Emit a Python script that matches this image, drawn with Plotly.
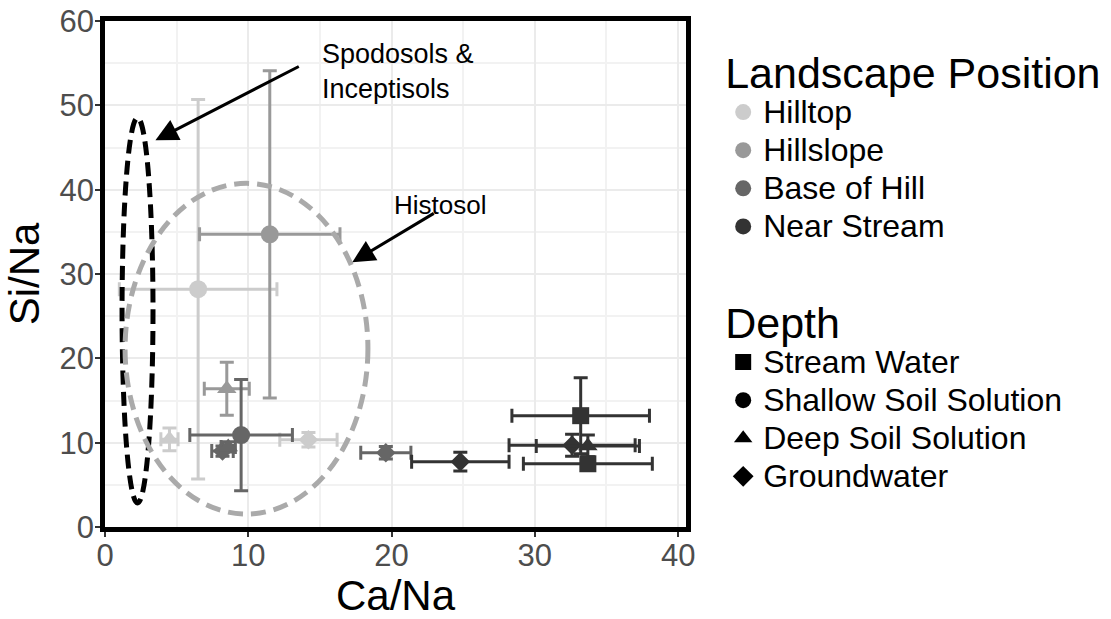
import plotly.graph_objects as go

# ---- data ----
landscape = ["Hilltop", "Hilltop", "Hilltop", "Hillslope", "Hillslope",
             "Base of Hill", "Base of Hill", "Base of Hill", "Base of Hill",
             "Near Stream", "Near Stream", "Near Stream", "Near Stream", "Near Stream"]
depth = ["Shallow Soil Solution", "Deep Soil Solution", "Groundwater",
         "Shallow Soil Solution", "Deep Soil Solution",
         "Shallow Soil Solution", "Groundwater", "Deep Soil Solution", "Groundwater",
         "Groundwater", "Stream Water", "Groundwater", "Deep Soil Solution", "Stream Water"]
ca_na = [6.5, 4.5, 14.2, 11.5, 8.5, 9.5, 8.2, 8.6, 19.6, 24.8, 33.2, 32.6, 33.7, 33.7]
si_na = [28.2, 10.4, 10.35, 34.7, 16.4, 10.9, 9.0, 9.5, 8.8, 7.75, 13.2, 9.7, 9.6, 7.5]
ca_sd = [5.5, 0.6, 2.0, 4.9, 1.57, 3.58, 0.75, 0.5, 1.75, 3.4, 4.8, 4.4, 3.6, 4.5]
si_sd = [22.5, 1.35, 0.85, 19.4, 3.15, 6.6, 0.6, 0.6, 0.75, 1.1, 4.5, 1.3, 1.3, 0.8]

landscape_levels = ["Hilltop", "Hillslope", "Base of Hill", "Near Stream"]
landscape_colors = ["#cccccc", "#999999", "#666666", "#333333"]
depth_levels = ["Stream Water", "Shallow Soil Solution", "Deep Soil Solution", "Groundwater"]
depth_symbols = ["square", "circle", "triangle-up", "diamond"]
depth_sizes = [17, 18, 17, 15]

x_ticks = [0, 10, 20, 30, 40]
y_ticks = [0, 10, 20, 30, 40, 50, 60]

col_of = dict(zip(landscape_levels, landscape_colors))
sym_of = dict(zip(depth_levels, depth_symbols))
size_of = dict(zip(depth_levels, depth_sizes))

fig = go.Figure()

for i in range(len(ca_na)):
    c = col_of[landscape[i]]
    fig.add_trace(go.Scatter(
        x=[ca_na[i]], y=[si_na[i]], mode="markers",
        marker=dict(symbol=sym_of[depth[i]], size=size_of[depth[i]], color=c, line=dict(width=0)),
        error_x=dict(type="data", array=[ca_sd[i]], color=c, thickness=3, width=7),
        error_y=dict(type="data", array=[si_sd[i]], color=c, thickness=3, width=7),
        showlegend=False, hoverinfo="x+y"))

ITEM = "<span style='font-size:32px'>{}</span>"
for lv, c in zip(landscape_levels, landscape_colors):
    fig.add_trace(go.Scatter(x=[None], y=[None], mode="markers", name=ITEM.format(lv),
                             marker=dict(symbol="circle", size=18, color=c),
                             legend="legend", showlegend=True))
for lv, s in zip(depth_levels, depth_symbols):
    fig.add_trace(go.Scatter(x=[None], y=[None], mode="markers", name=ITEM.format(lv),
                             marker=dict(symbol=s, size=18, color="black"),
                             legend="legend2", showlegend=True))

# ellipses
fig.add_shape(type="circle", xref="x", yref="y", x0=1.19, x1=3.35, y0=2.85, y1=48.5,
              line=dict(color="black", width=5, dash="14px,7px"), layer="above")
fig.add_shape(type="circle", xref="x", yref="y", x0=1.4, x1=18.35, y0=1.54, y1=40.75,
              line=dict(color="#aaaaaa", width=5, dash="15px,8px"), layer="above")

# annotations
fig.add_annotation(x=3.52, y=45.85, ax=13.63, ay=54.7, xref="x", yref="y", axref="x", ayref="y",
                   text="", showarrow=True, arrowhead=2, arrowsize=1.5, arrowwidth=3, arrowcolor="black")
fig.add_annotation(x=15.0, y=54.0, xref="x", yref="y", text="Spodosols &amp;<br>Inceptisols",
                   showarrow=False, xanchor="left", yanchor="middle", align="left",
                   font=dict(family="Arial", size=27, color="black"))
fig.add_annotation(x=17.26, y=31.4, ax=23.05, ay=37.3, xref="x", yref="y", axref="x", ayref="y",
                   text="", showarrow=True, arrowhead=2, arrowsize=1.5, arrowwidth=3, arrowcolor="black")
fig.add_annotation(x=20.0, y=38.2, xref="x", yref="y", text="Histosol",
                   showarrow=False, xanchor="left", yanchor="middle",
                   font=dict(family="Arial", size=26, color="black"))

axis_common = dict(
    showline=True, linecolor="black", linewidth=4.5, mirror=True,
    ticks="outside", ticklen=5, tickwidth=2, tickcolor="#333333",
    tickfont=dict(family="Arial", size=31, color="#4d4d4d"),
    showgrid=True, gridcolor="#ebebeb", gridwidth=2,
    minor=dict(showgrid=True, gridcolor="#f2f2f2", gridwidth=1.5, dtick=5, ticks=""),
    zeroline=False, automargin=False,
)

fig.update_layout(
    width=1111, height=619,
    margin=dict(l=105, r=425, t=21, b=92, autoexpand=False),
    paper_bgcolor="white", plot_bgcolor="white",
    font=dict(family="Arial", color="black"),
    xaxis=dict(range=[0, 40.55], tickvals=x_ticks, ticktext=[str(v) for v in x_ticks],
               ticklabelstandoff=-8,
               title=dict(text="Ca/Na", font=dict(family="Arial", size=42, color="black"), standoff=12),
               **axis_common),
    yaxis=dict(range=[0, 60], tickvals=y_ticks, ticktext=[str(v) for v in y_ticks],
               ticklabelstandoff=-5,
               title=dict(text="Si/Na", font=dict(family="Arial", size=42, color="black"), standoff=8),
               **axis_common),
    legend=dict(title=dict(text="Landscape Position", font=dict(family="Arial", size=43, color="black")),
                x=1.064, y=0.978, xanchor="left", yanchor="top",
                font=dict(family="Arial", size=27, color="black"),
                bgcolor="rgba(0,0,0,0)", itemclick=False),
    legend2=dict(title=dict(text="Depth", font=dict(family="Arial", size=43, color="black")),
                 x=1.064, y=0.484, xanchor="left", yanchor="top",
                 font=dict(family="Arial", size=27, color="black"),
                 bgcolor="rgba(0,0,0,0)", itemclick=False),
)

fig.write_html("out.html", config={"displayModeBar": False},
               post_script="document.body.style.margin='0';")
